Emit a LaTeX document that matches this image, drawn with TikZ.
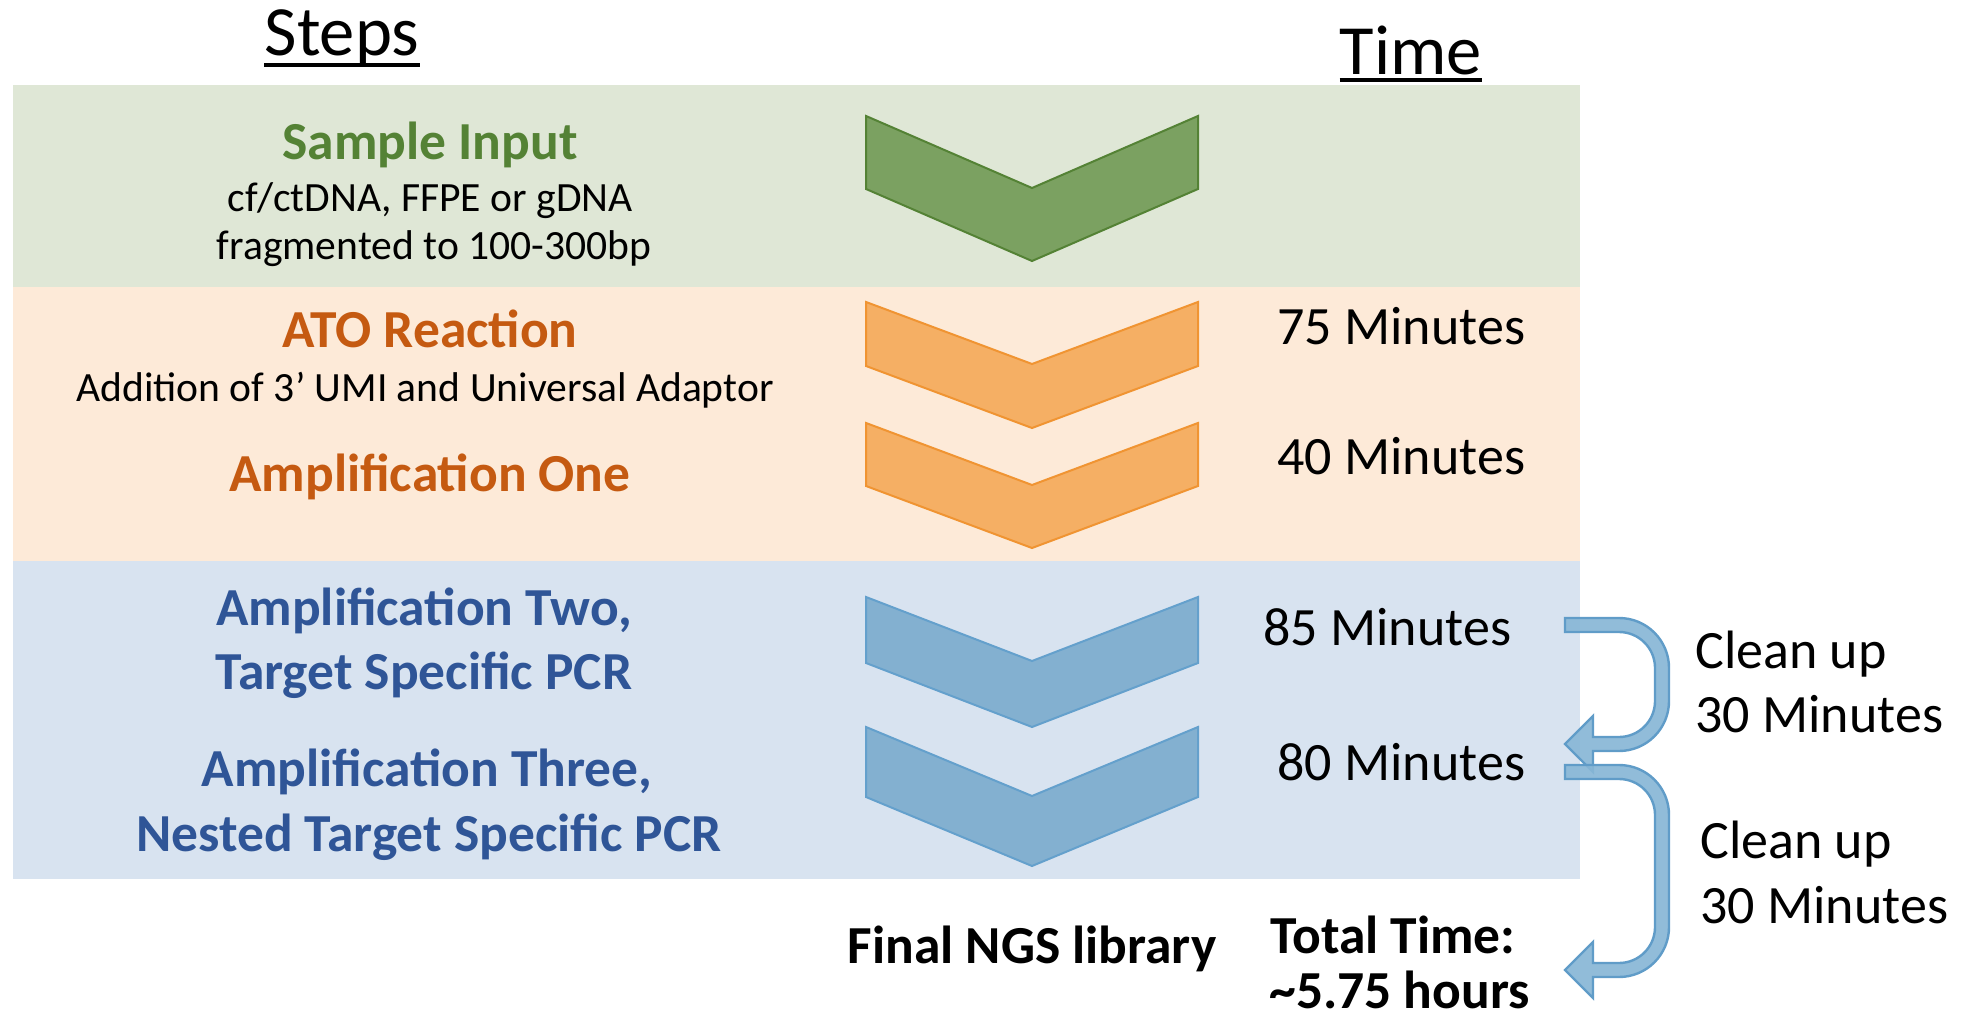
\documentclass[tikz,border=0pt]{standalone}
\usepackage{fontspec}
\setmainfont{Carlito}
\definecolor{bandG}{RGB}{223,231,214}
\definecolor{bandO}{RGB}{253,234,216}
\definecolor{bandB}{RGB}{216,227,240}
\definecolor{chevGfill}{RGB}{123,161,97}
\definecolor{chevGline}{RGB}{84,130,53}
\definecolor{chevOfill}{RGB}{245,175,100}
\definecolor{chevOline}{RGB}{240,148,50}
\definecolor{chevBfill}{RGB}{131,176,208}
\definecolor{chevBline}{RGB}{100,160,204}
\definecolor{arrFill}{RGB}{136,183,214}
\definecolor{arrLine}{RGB}{96,156,200}
\definecolor{txtG}{RGB}{84,130,53}
\definecolor{txtO}{RGB}{197,90,17}
\definecolor{txtB}{RGB}{47,85,151}
\newcommand\mychev[4]{%
  \draw[#4] (866,#1) -- (1032,#1+#3) -- (1198,#1) -- (1198,#1+#2)
    -- (1032,#1+#2+#3) -- (866,#1+#2) -- cycle;}
\newcommand\myarrow[2]{%
  \draw[cleanarrow] (1565,#1-7) -- (1619,#1-7)
    arc[start angle=270,end angle=360,radius=50] -- (1669,#2-43)
    arc[start angle=0,end angle=90,radius=50] -- (1593,#2+7)
    -- (1593,#2+28) -- (1565,#2) -- (1593,#2-28) -- (1593,#2-7) -- (1619,#2-7)
    arc[start angle=90,end angle=0,radius=36] -- (1655,#1+43)
    arc[start angle=0,end angle=-90,radius=36] -- (1565,#1+7) -- cycle;}
\begin{document}
\begin{tikzpicture}[x=0.5pt,y=-0.5pt,
  lbl/.style={inner sep=0pt, anchor=base},
  title/.style={lbl, font=\fontsize{35.3}{40}\selectfont},
  head/.style={lbl, font=\bfseries\fontsize{26.75}{32}\selectfont},
  sub/.style={lbl, font=\fontsize{20.8}{25}\selectfont},
  mins/.style={inner sep=0pt, anchor=base west, font=\fontsize{27}{32}\selectfont},
  chevG/.style={fill=chevGfill, draw=chevGline, line width=1pt},
  chevO/.style={fill=chevOfill, draw=chevOline, line width=1pt},
  chevB/.style={fill=chevBfill, draw=chevBline, line width=1pt},
  cleanarrow/.style={fill=arrFill, draw=arrLine, line width=1.2pt, fill opacity=0.92, line join=miter},
  uline/.style={line width=2pt}]
\useasboundingbox[fill=white] (0,0) rectangle (1962,1020);
% bands
\fill[bandG] (13,85) rectangle (1580,287);
\fill[bandO] (13,287) rectangle (1580,561);
\fill[bandB] (13,561) rectangle (1580,879);
% chevrons
\mychev{116}{73}{72}{chevG}
\mychev{302}{64}{62}{chevO}
\mychev{423}{63}{62}{chevO}
\mychev{597}{66}{64}{chevB}
\mychev{727}{70}{69}{chevB}
% titles
\node[title] (steps) at (342,56) {Steps};
\draw[uline] ([yshift=-9*0.5pt]steps.base west) -- ([yshift=-9*0.5pt]steps.base east);
\node[title] (time) at (1411,75) {Time};
\draw[uline] ([yshift=-5*0.5pt]time.base west) -- ([yshift=-5*0.5pt]time.base east);
% left column
\node[head, text=txtG] (s1) at (430,160) {Sample Input};
\node[sub] (s1a) at (430,212) {cf/ctDNA, FFPE or gDNA};
\node[sub] (s1b) at (434,260) {fragmented to 100-300bp};
\node[head, text=txtO] (s2) at (430,348) {ATO Reaction};
\node[sub] (s2a) at (425,402) {Addition of 3’ UMI and Universal Adaptor};
\node[head, text=txtO] (s3) at (430,492) {Amplification One};
\node[head, text=txtB] (s4) at (424,625) {Amplification Two,};
\node[head, text=txtB] (s4a) at (424,689) {Target Specific PCR};
\node[head, text=txtB] (s5) at (427,786) {Amplification Three,};
\node[head, text=txtB] (s5a) at (429,851) {Nested Target Specific PCR};
\node[head] (final) at (1032,963) {Final NGS library};
% times
\node[mins] (t1) at (1277,345) {75 Minutes};
\node[mins] (t2) at (1277,475) {40 Minutes};
\node[mins] (t3) at (1263,645) {85 Minutes};
\node[mins] (t4) at (1277,780) {80 Minutes};
\node[mins] (c1) at (1695,668) {Clean up};
\node[mins] (c1b) at (1695,732) {30 Minutes};
\node[mins] (c2) at (1700,858) {Clean up};
\node[mins] (c2b) at (1700,923) {30 Minutes};
\node[head, anchor=base west] (tot) at (1270,953) {Total Time:};
\node[head, anchor=base west] (tot2) at (1269,1008) {\textasciitilde5.75 hours};
% clean-up arrows
\myarrow{625}{744}
\myarrow{772}{970}
\end{tikzpicture}
\end{document}
